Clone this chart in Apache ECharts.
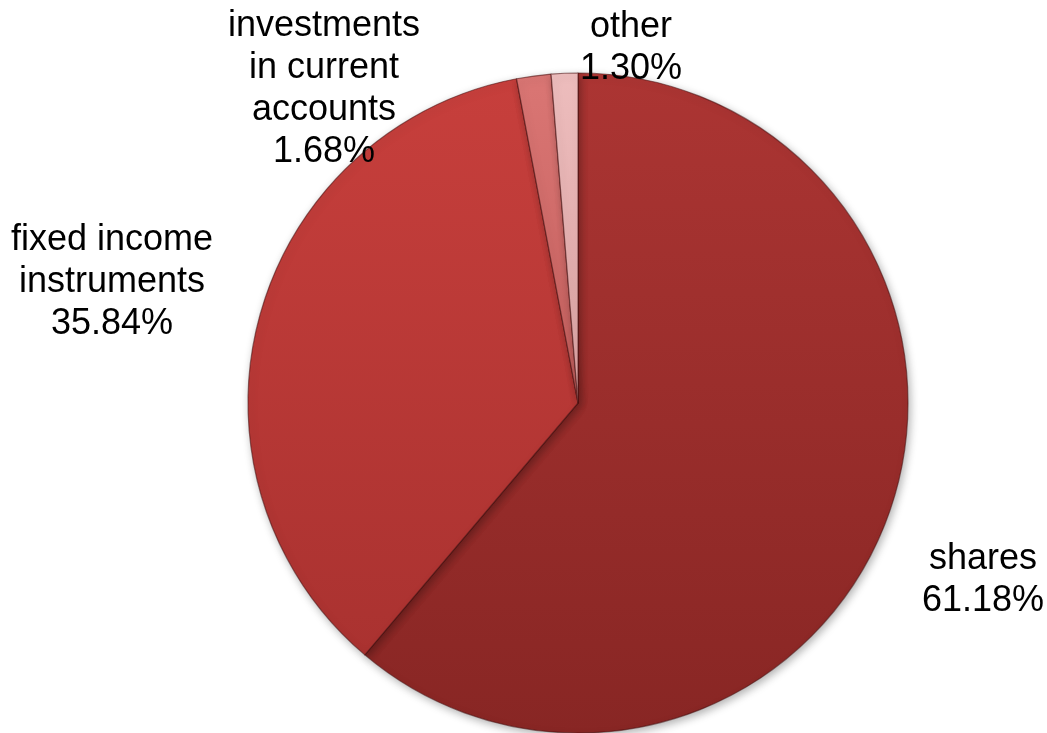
<!DOCTYPE html>
<html>
<head>
<meta charset="utf-8">
<script src="https://cdn.jsdelivr.net/npm/echarts@6/dist/echarts.min.js"></script>
<style>
html,body{margin:0;padding:0;background:#fff;}
#c{width:1047px;height:733px;}
</style>
</head>
<body>
<div id="c"></div>
<script>
const categories = ['shares', 'fixed income\ninstruments', 'investments\nin current\naccounts', 'other'];
const values = [61.18, 35.84, 1.68, 1.30];
const topColors = ['#AC3533', '#C73F3C', '#DA7674', '#EDBDBD'];
const bottomColors = ['#882624', '#AA3230', '#C45F5D', '#DCA3A3'];
const labelSpots = [[983, 580], [112, 282], [324, 89], [631, 48]];

const chart = echarts.init(document.getElementById('c'), null, {renderer: 'canvas'});
const data = categories.map((name, i) => ({
  name: name,
  value: values[i],
  itemStyle: {
    color: new echarts.graphic.LinearGradient(0, 0, 0, 1, [
      {offset: 0, color: topColors[i]},
      {offset: 1, color: bottomColors[i]}
    ])
  }
}));

chart.setOption({
  animation: false,
  backgroundColor: '#ffffff',
  series: [{
    type: 'pie',
    center: [578, 403],
    radius: [0, 330],
    startAngle: 90,
    clockwise: true,
    data: data,
    itemStyle: {
      borderColor: 'rgba(70,12,12,0.55)',
      borderWidth: 1.2,
      shadowBlur: 8,
      shadowColor: 'rgba(0,0,0,0.3)',
      shadowOffsetX: 2,
      shadowOffsetY: 3
    },
    label: {
      show: true,
      position: 'outside',
      alignTo: 'none',
      overflow: 'none',
      formatter: p => p.name + '\n' + p.value.toFixed(2) + '%',
      fontFamily: 'Liberation Sans, Arial, sans-serif',
      fontSize: 36,
      lineHeight: 42,
      color: '#000',
      align: 'center',
      verticalAlign: 'middle'
    },
    labelLine: {show: false},
    labelLayout: function (params) {
      const s = labelSpots[params.dataIndex];
      return {x: s[0], y: s[1], width: 260, align: 'center', verticalAlign: 'middle'};
    }
  }]
});
</script>
</body>
</html>
